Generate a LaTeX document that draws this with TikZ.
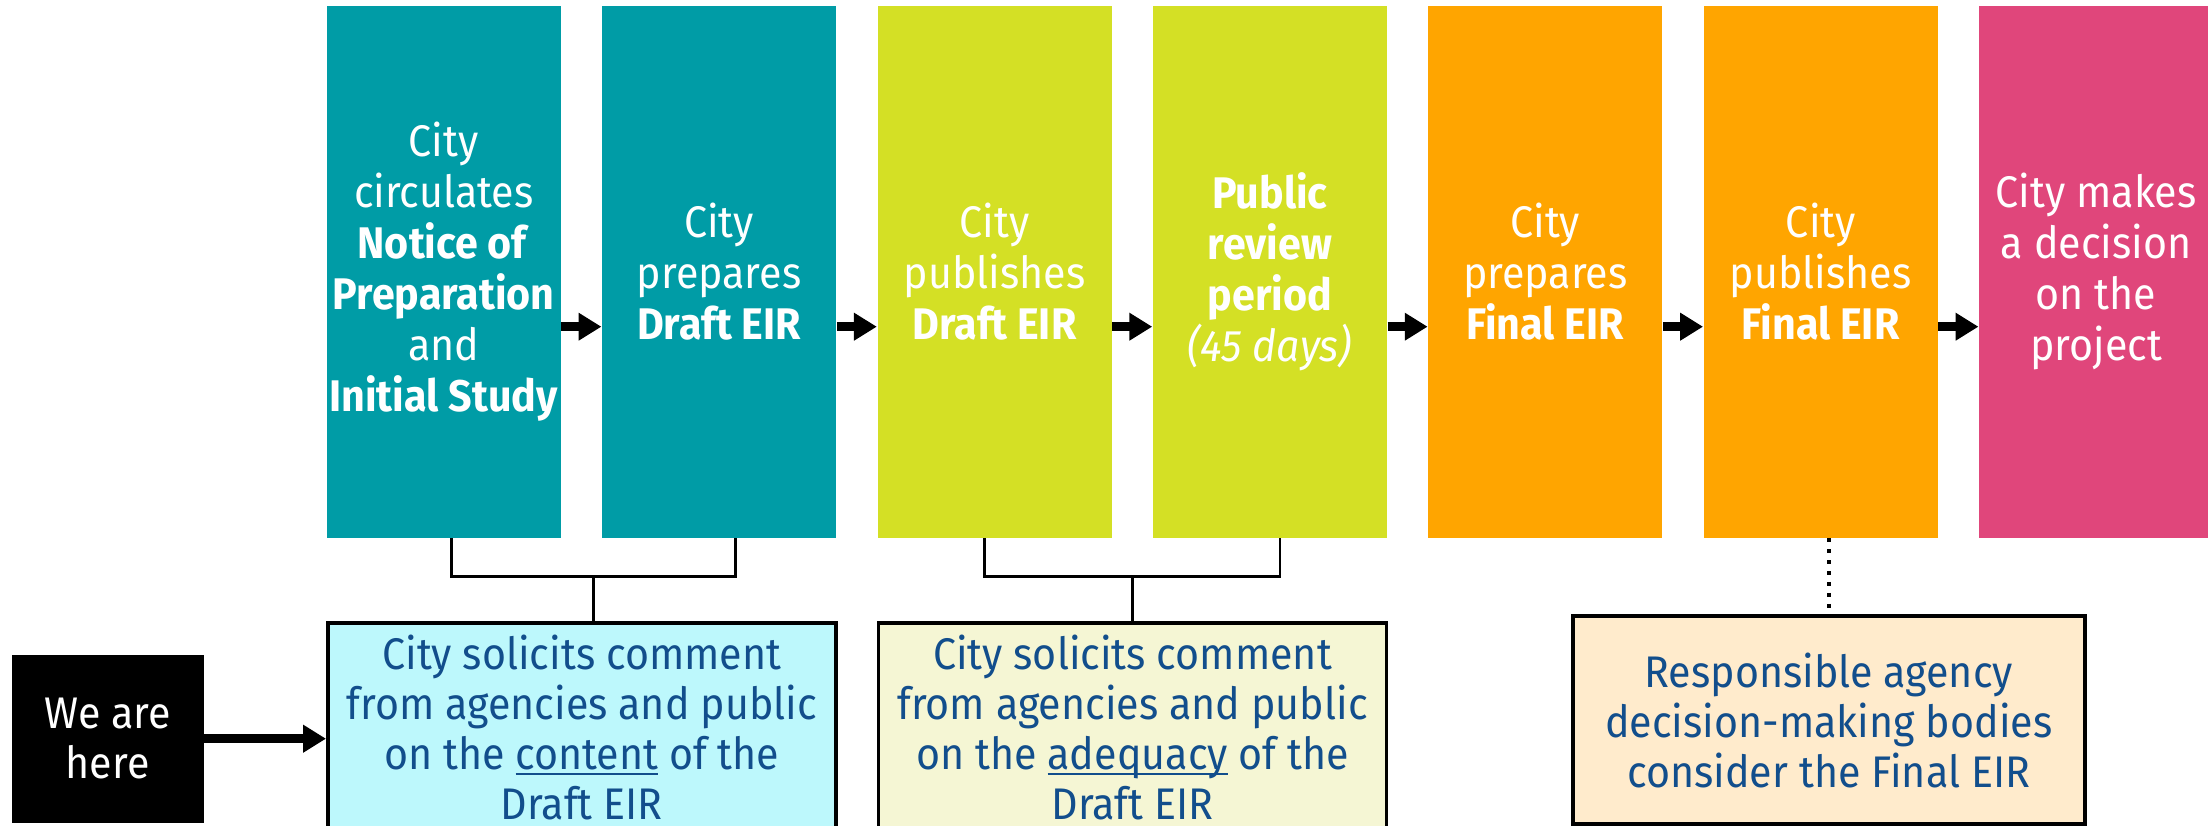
\documentclass[tikz,border=0pt]{standalone}
\usepackage{fontspec}
\setmainfont[FakeStretch=0.93]{Fira Sans}
\usetikzlibrary{positioning,arrows.meta,calc}
\definecolor{tealbox}{RGB}{0,156,166}
\definecolor{limebox}{RGB}{212,224,37}
\definecolor{orangebox}{RGB}{255,165,0}
\definecolor{pinkbox}{RGB}{224,70,123}
\definecolor{cyannote}{RGB}{189,248,252}
\definecolor{limenote}{RGB}{245,246,212}
\definecolor{peachnote}{RGB}{255,235,204}
\definecolor{noteblue}{RGB}{18,78,140}
\newcommand\undl[1]{\underline{\smash{#1}}}
\begin{document}
\begin{tikzpicture}[
			node distance=4mm,
			stage/.style={rectangle, text=white, minimum width=2.34cm, minimum height=5.32cm, inner sep=0pt, align=center, font=\fontsize{12.6}{14.5}\selectfont},
			note/.style={rectangle, draw, line width=1pt, text=noteblue, align=center, inner sep=0pt, font=\fontsize{12.6}{14.2}\selectfont},
			flow/.style={-{Triangle[length=6.5pt,width=7.5pt]}, line width=2.6pt},
			brace/.style={line width=0.8pt}
			]
			\useasboundingbox (0,0) rectangle (22.08,-8.26);
			
			\node[stage] (nop) [anchor=north west, fill=tealbox] at (3.26,-0.05) {City\\circulates\\\textbf{Notice of}\\\textbf{Preparation}\\and\\\textbf{Initial Study}};
			\node[stage] (prep) [right=of nop, fill=tealbox] {City\\prepares\\\textbf{Draft EIR}};
			\node[stage] (pub) [right=of prep, fill=limebox] {City\\publishes\\\textbf{Draft EIR}};
			\node[stage] (review) [right=of pub, fill=limebox] {\textbf{Public}\\\textbf{review}\\\textbf{period}\\\textit{(45 days)}};
			\node[stage] (final) [right=of review, fill=orangebox] {City\\prepares\\\textbf{Final EIR}};
			\node[stage] (pubfinal) [right=of final, fill=orangebox] {City\\publishes\\\textbf{Final EIR}};
			\node[stage] (decide) [right=of pubfinal, fill=pinkbox] {City makes\\a decision\\on the\\project};
			
			\draw[flow] ([yshift=-5.5mm]nop.east) -- ([yshift=-5.5mm]prep.west);
			\draw[flow] ([yshift=-5.5mm]prep.east) -- ([yshift=-5.5mm]pub.west);
			\draw[flow] ([yshift=-5.5mm]pub.east) -- ([yshift=-5.5mm]review.west);
			\draw[flow] ([yshift=-5.5mm]review.east) -- ([yshift=-5.5mm]final.west);
			\draw[flow] ([yshift=-5.5mm]final.east) -- ([yshift=-5.5mm]pubfinal.west);
			\draw[flow] ([yshift=-5.5mm]pubfinal.east) -- ([yshift=-5.5mm]decide.west);
			
			\node[note] (content) [anchor=north west, fill=cyannote, minimum width=5.08cm, minimum height=2.08cm] at ([yshift=-8.3mm]nop.south west) {City solicits comment\\from agencies and public\\on the \undl{content} of the\\Draft EIR};
			\node[note] (adequacy) [anchor=north west, fill=limenote, minimum width=5.08cm, minimum height=2.08cm] at ([yshift=-8.3mm]pub.south west) {City solicits comment\\from agencies and public\\on the \undl{adequacy} of the\\Draft EIR};
			\node[note] (bodies) [anchor=north, fill=peachnote, minimum width=5.12cm, minimum height=2.08cm] at ([xshift=0.8mm,yshift=-7.6mm]pubfinal.south) {Responsible agency\\decision-making bodies\\consider the Final EIR};
			\node[rectangle, fill=black, text=white, align=center, minimum width=1.92cm, minimum height=1.68cm, font=\fontsize{12.6}{14.2}\selectfont] (here) [anchor=north west] at (0.11,-6.54) {We are\\here};
			
			\coordinate (k1) at ([xshift=0.8mm,yshift=-3.8mm]nop.south);
			\coordinate (k2) at ([xshift=1.6mm,yshift=-3.8mm]prep.south);
			\coordinate (m1) at ($(k1)!0.5!(k2)$);
			\draw[brace] ([xshift=0.8mm]nop.south) -- (k1) -- (k2) -- ([xshift=1.6mm]prep.south);
			\draw[brace] (m1) -- (m1 |- content.north);
			\coordinate (k3) at ([xshift=-1mm,yshift=-3.8mm]pub.south);
			\coordinate (k4) at ([xshift=1mm,yshift=-3.8mm]review.south);
			\coordinate (m2) at ($(k3)!0.5!(k4)$);
			\draw[brace] ([xshift=-1mm]pub.south) -- (k3) -- (k4) -- ([xshift=1mm]review.south);
			\draw[brace] (m2) -- (m2 |- adequacy.north);
			\draw[line width=1.1pt, dotted] (bodies.north |- pubfinal.south) -- (bodies.north);
			\draw[flow] (here.east) -- (here.east -| content.west);
		\end{tikzpicture}
\end{document}
